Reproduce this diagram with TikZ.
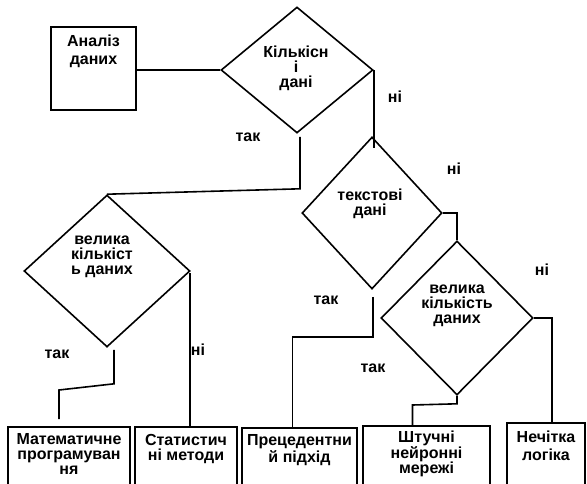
\documentclass[tikz,border=0pt]{standalone}
\usepackage{fontspec}
\setmainfont{Liberation Sans}
\usetikzlibrary{shapes.geometric,positioning,calc}

\begin{document}
\begin{tikzpicture}[x=1pt,y=-1pt,line width=1.6pt,
every node/.style={font=\fontsize{16}{15}\selectfont\bfseries},
box/.style={draw, shape=rectangle, inner sep=0pt, minimum height=80pt, anchor=north},
rhomb/.style={draw, shape=diamond, inner sep=0pt},
txt/.style={align=center, inner sep=0pt},
answer/.style={inner sep=0pt}]
\useasboundingbox (0,0) rectangle (587,483);
\clip (0,0) rectangle (587,483);
% decisions
\node[box, anchor=center, minimum width=85pt, minimum height=83pt] (analiz) at (93.5,68.5) {};
\node[rhomb, minimum width=152pt, minimum height=126pt] (D1) at (297,70) {};
\node[rhomb, minimum width=140pt, minimum height=152pt] (D2) at (372,213) {};
\node[rhomb, minimum width=152pt, minimum height=154pt] (D3) at (457,318) {};
\node[rhomb, minimum width=166pt, minimum height=152pt] (D4) at (107,271) {};
\node[txt, anchor=north] (analizT) at ($(analiz.north)+(0,8)$) {Аналіз\\[3pt]даних};
\node[txt] (D1T) at (296,68) {Кількісн\\і\\дані};
\node[txt] (D2T) at (370,204) {текстові\\дані};
\node[txt] (D3T) at (457,306) {велика\\кількість\\даних};
\node[txt] (D4T) at (102,257) {велика\\кількіст\\ь даних};
% methods
\node[box, minimum width=122pt] (B1) at (69,426) {};
\node[box, minimum width=102pt] (B2) at (186,426) {};
\node[box, minimum width=115pt] (B3) at (299.5,427) {};
\node[box, minimum width=127pt] (B4) at (426.5,425) {};
\node[box, minimum width=78pt] (B5) at (546,422) {};
\node[txt, anchor=north] (B1T) at ($(B1.north)+(0,7)$) {Математичне\\програмуван\\ня};
\node[txt, anchor=north] (B2T) at ($(B2.north)+(0,8)$) {Статистич\\ні методи};
\node[txt, anchor=north] (B3T) at ($(B3.north)+(0,7)$) {Прецедентни\\й підхід};
\node[txt, anchor=north] (B4T) at ($(B4.north)+(0,5)$) {Штучні\\нейронні\\мережі};
\node[txt, anchor=north] (B5T) at ($(B5.north)+(0,8)$) {Нечітка\\[3pt]логіка};
% yes / no
\node[answer] (D1y) at (248,137) {так};
\node[answer] (D1n) at (395,97) {ні};
\node[answer] (D2n) at (454,169) {ні};
\node[answer] (D2y) at (326,300) {так};
\node[answer] (D3n) at (542,270) {ні};
\node[answer] (D3y) at (373,368) {так};
\node[answer] (D4y) at (57,354) {так};
\node[answer] (D4n) at (198,350) {ні};
% connectors
\draw (D1.west -| analiz.east) -- (D1.west);
\draw ($(D1.south)+(3,3)$) -- ++(0,52) -- (D4.north);
\draw (D1.east) -- ($(D1.east |- D2.north)+(0,12)$);
\draw (D2.east) -| (D3.north);
\draw (D3.east) -| ($(B5.north)+(6,0)$);
\draw (D3.south) -- ++(0,8) -- ($(B4.north)+(-14,-20)$) -- ($(B4.north)+(-14,0)$);
\draw ($(D2.south)+(1,7)$) -- ++(0,40) -| ($(B3.north)+(-7,1)$);
\draw ($(D4.south)+(7,2)$) -- ++(0,34) -- ($(B1.north)+(-10,-36)$) -- ($(B1.north)+(-10,-7)$);
\draw ($(D4.east)+(-1,2)$) -- ($(D4.east |- B2.north)+(-1,0)$);
\end{tikzpicture}
\end{document}
